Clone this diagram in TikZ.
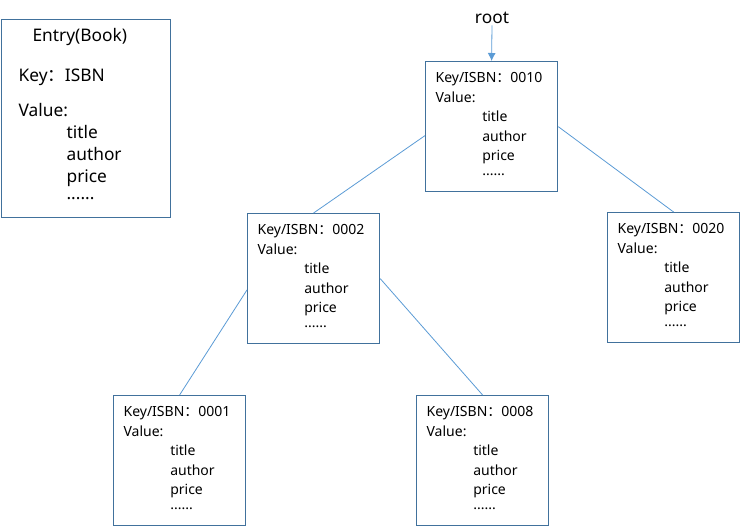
\documentclass[tikz,border=0pt]{standalone}
\usepackage{fontspec}
\setmainfont{Noto Sans}
\newfontfamily\cjk{Noto Sans CJK SC}
\usepackage{xcolor}
\usetikzlibrary{arrows.meta, positioning}
\definecolor{boxblue}{HTML}{41719C}
\definecolor{lineblue}{HTML}{5B9BD5}
\def\fwc{{\cjk ：}}
\def\rec#1{Key/ISBN\fwc#1\\Value:\\\hspace*{35pt}title\\\hspace*{35pt}author\\\hspace*{35pt}price\\[-3.4pt]\hspace*{35pt}......\rule[-4pt]{0pt}{0pt}}

\begin{document}
\begin{tikzpicture}[x=0.75pt,y=-0.75pt,
  rec/.style={draw=boxblue, line width=0.9pt, anchor=north west, minimum width=99pt, minimum height=97.5pt, inner sep=0pt, text width=84pt, align=left, font=\fontsize{10.5}{14.6}\selectfont},
  link/.style={draw=lineblue, line width=0.6pt}]
  \useasboundingbox (0,0) rectangle (740,528);

  \node[rec, minimum width=126.75pt, minimum height=148.5pt, text width=101.25pt, font=\fontsize{13}{16.5}\selectfont] (entry) at (1,19)
    {\hspace*{10.5pt}Entry(Book)\\[13.5pt]Key\fwc ISBN\\[9.75pt]Value:\\\hspace*{36pt}title\\\hspace*{36pt}author\\\hspace*{36pt}price\\[-3.75pt]\hspace*{36pt}......\rule[-7.5pt]{0pt}{0pt}};

  \node[font=\fontsize{13}{15}\selectfont, inner sep=1pt] (rootlabel) at (492,18) {root};
  \node[rec] (n0010) at (425,61) {\rec{0010}};
  \node[rec] (n0002) at (247,213) {\rec{0002}};
  \node[rec] (n0020) at (607,212) {\rec{0020}};
  \node[rec] (n0001) at (113,395) {\rec{0001}};
  \node[rec] (n0008) at (416,395) {\rec{0008}};

  \draw[link, -{Latex[length=6pt, width=6pt]}] (rootlabel.south) -- (n0010.north);
  \draw[link] ([yshift=-6.75pt]n0010.west) -- (n0002.north);
  \draw[link] (n0010.east) -- (n0020.north);
  \draw[link] ([yshift=-8.5pt]n0002.west) -- (n0001.north);
  \draw[link] (n0002.east) -- (n0008.north);
\end{tikzpicture}
\end{document}
